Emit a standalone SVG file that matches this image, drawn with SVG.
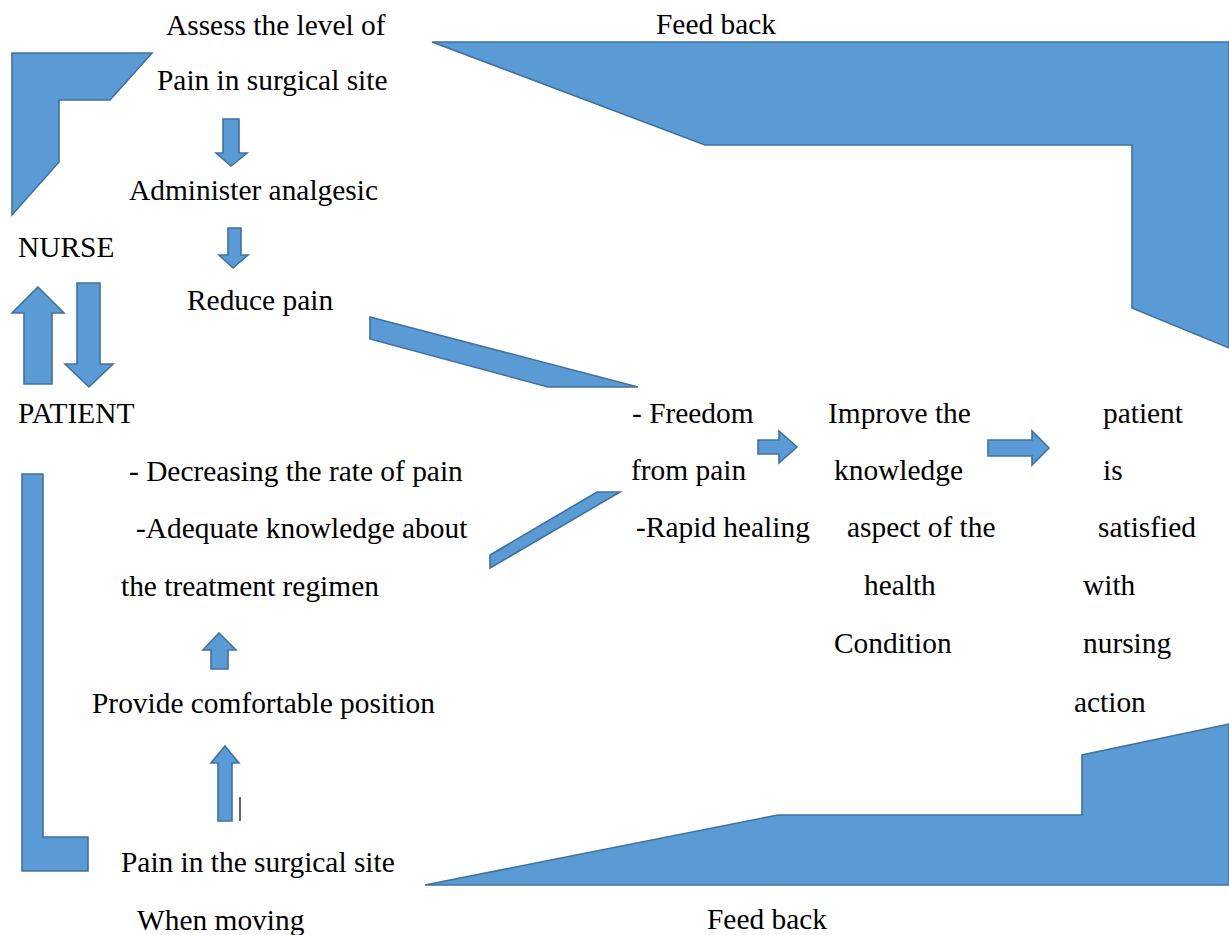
<svg xmlns="http://www.w3.org/2000/svg" width="1229" height="935" viewBox="0 0 1229 935">
  <style>
    .t { font-family: "Liberation Serif", "Times New Roman", serif; font-size: 29.4px; fill: #000; }
    .s { fill: #5b9bd5; stroke: #41719c; stroke-width: 1.6; stroke-linejoin: miter; }
  </style>
  <rect width="1229" height="935" fill="#ffffff"/>
  <g id="connectors">
    <polygon class="s" points="12,53 152,53 110,100 59,100 59,162 12,215"/>
    <polygon class="s" points="432,42 1229,42 1229,348 1132,308 1132,145 705,145"/>
    <polygon class="s" points="425,885 778,815 1082,815 1082,755 1229,724 1229,885"/>
    <polygon class="s" points="22,474 43,474 43,837 88,837 88,871 22,871"/>
    <polygon class="s" points="370,317 638,387 548,387 370,339"/>
    <polygon class="s" points="490,555 597,492 620,492 490,568"/>
    <polygon class="s" points="223,119 239,119 239,153 247,153 231,166 216,153 223,153"/>
    <polygon class="s" points="228,228 241,228 241,255 248,255 233,268 219,255 228,255"/>
    <polygon class="s" points="38,287 64,313 52,313 52,384 24,384 24,313 12,313"/>
    <polygon class="s" points="77,283 100,283 100,364 113,364 89,387 65,364 77,364"/>
    <polygon class="s" points="219,633 236,650 228,650 228,669 211,669 211,650 203,650"/>
    <polygon class="s" points="225,746 239,763 232,763 232,821 218,821 218,763 211,763"/>
    <polygon class="s" points="758,440 779,440 779,431 797,447 779,463 779,454 758,454"/>
    <polygon class="s" points="988,440 1032,440 1032,431 1049,448 1032,465 1032,456 988,456"/>
    <line x1="240" y1="797" x2="240" y2="821" stroke="#000" stroke-width="1.2"/>
  </g>
  <g id="assess"><text class="t" x="166" y="35">Assess the level of</text><text class="t" x="157" y="90">Pain in surgical site</text></g>
  <g id="administer"><text class="t" x="129" y="200">Administer analgesic</text></g>
  <g id="nurse"><text class="t" x="18" y="257">NURSE</text></g>
  <g id="reduce"><text class="t" x="187" y="310">Reduce pain</text></g>
  <g id="patient"><text class="t" x="18" y="423">PATIENT</text></g>
  <g id="outcomes-left">
    <text class="t" x="129" y="481">- Decreasing the rate of pain</text>
    <text class="t" x="136" y="538">-Adequate knowledge about</text>
    <text class="t" x="121" y="596">the treatment regimen</text>
  </g>
  <g id="position"><text class="t" x="92" y="713">Provide comfortable position</text></g>
  <g id="pain-moving">
    <text class="t" x="121" y="872">Pain in the surgical site</text>
    <text class="t" x="137" y="930">When moving</text>
  </g>
  <g id="feedback-top"><text class="t" x="656" y="34">Feed back</text></g>
  <g id="feedback-bottom"><text class="t" x="707" y="929">Feed back</text></g>
  <g id="freedom">
    <text class="t" x="632" y="423">- Freedom</text>
    <text class="t" x="631" y="480">from pain</text>
    <text class="t" x="636" y="537">-Rapid healing</text>
  </g>
  <g id="improve">
    <text class="t" x="828" y="423">Improve the</text>
    <text class="t" x="834" y="480">knowledge</text>
    <text class="t" x="847" y="537">aspect of the</text>
    <text class="t" x="864" y="595">health</text>
    <text class="t" x="834" y="653">Condition</text>
  </g>
  <g id="satisfied">
    <text class="t" x="1103" y="423">patient</text>
    <text class="t" x="1103" y="480">is</text>
    <text class="t" x="1098" y="537">satisfied</text>
    <text class="t" x="1083" y="595">with</text>
    <text class="t" x="1083" y="653">nursing</text>
    <text class="t" x="1074" y="712">action</text>
  </g>
</svg>
